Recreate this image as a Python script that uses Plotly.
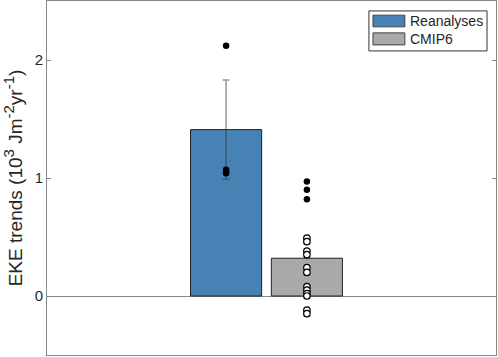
import plotly.graph_objects as go

categories = ["Reanalyses", "CMIP6"]
bar_x = [1, 2]
bar_means = [1.41, 0.32]
bar_colors = ["#4682b4", "#a9a9a9"]
rean_err = 0.42

rean_points_filled = [2.12, 1.07, 1.05, 1.04]
cmip_points_filled = [0.97, 0.90, 0.82]
cmip_points_open = [0.49, 0.46, 0.38, 0.35, 0.24, 0.20, 0.08, 0.05, 0.02, 0.0, -0.12, -0.15]

y_ticks = [0, 1, 2]

fig = go.Figure()

for i, name in enumerate(categories):
    fig.add_trace(go.Bar(
        x=[bar_x[i]], y=[bar_means[i]], name=name, width=0.88,
        marker=dict(color=bar_colors[i], line=dict(color="#222222", width=1)),
        error_y=dict(type="data", array=[rean_err], visible=True,
                     color="rgba(50,50,50,0.5)", thickness=1.5, width=3.5) if i == 0 else None,
        showlegend=False,
    ))

fig.add_trace(go.Scatter(
    x=[bar_x[0]] * len(rean_points_filled), y=rean_points_filled, mode="markers",
    marker=dict(color="black", size=6.5), showlegend=False))
fig.add_trace(go.Scatter(
    x=[bar_x[1]] * len(cmip_points_filled), y=cmip_points_filled, mode="markers",
    marker=dict(color="black", size=6.5), showlegend=False))
fig.add_trace(go.Scatter(
    x=[bar_x[1]] * len(cmip_points_open), y=cmip_points_open, mode="markers",
    marker=dict(color="white", size=6.5, line=dict(color="black", width=1.2)), showlegend=False))

# Manual legend (MATLAB-style wide patches), in paper coordinates
fig.add_shape(type="rect", xref="paper", yref="paper", x0=0.717, x1=0.980, y0=0.859, y1=0.972,
              line=dict(color="#333333", width=1), fillcolor="white", layer="above")
patch_y = [(0.927, 0.960), (0.876, 0.910)]
text_y = [0.944, 0.893]
for i, name in enumerate(categories):
    fig.add_shape(type="rect", xref="paper", yref="paper", x0=0.726, x1=0.797,
                  y0=patch_y[i][0], y1=patch_y[i][1],
                  line=dict(color="#444444", width=1), fillcolor=bar_colors[i], layer="above")
    fig.add_annotation(xref="paper", yref="paper", x=0.804, y=text_y[i], text=name,
                       showarrow=False, xanchor="left", yanchor="middle",
                       font=dict(size=14, color="#262626"))

sup = "<sup><span style='font-size:15px'>{}</span></sup>"
title_text = "EKE trends (10" + sup.format("3") + " Jm" + sup.format("-2") + "yr" + sup.format("-1") + ")"

fig.update_layout(
    width=498, height=357,
    margin=dict(l=47, r=2, t=1, b=2, autoexpand=False),
    plot_bgcolor="white", paper_bgcolor="white",
    font=dict(family="Liberation Sans, Arial, sans-serif", color="#262626"),
    barmode="overlay",
    showlegend=False,
    xaxis=dict(range=[-1.216, 4.34], showticklabels=False, ticks="",
               showline=True, linecolor="#888888", linewidth=1, mirror=True,
               showgrid=False, zeroline=False),
    yaxis=dict(range=[-0.5, 2.5], tickvals=y_ticks, ticktext=[str(t) for t in y_ticks],
               ticks="inside", ticklen=4, tickcolor="#888888", tickfont=dict(size=15),
               showline=True, linecolor="#888888", linewidth=1, mirror="ticks",
               showgrid=False, zeroline=True, zerolinecolor="#888888", zerolinewidth=1,
               automargin=False,
               title=dict(text=title_text, font=dict(size=19), standoff=8)),
)

fig.write_html("out.html", config={"displayModeBar": False},
               post_script="document.body.style.margin='0px';")
